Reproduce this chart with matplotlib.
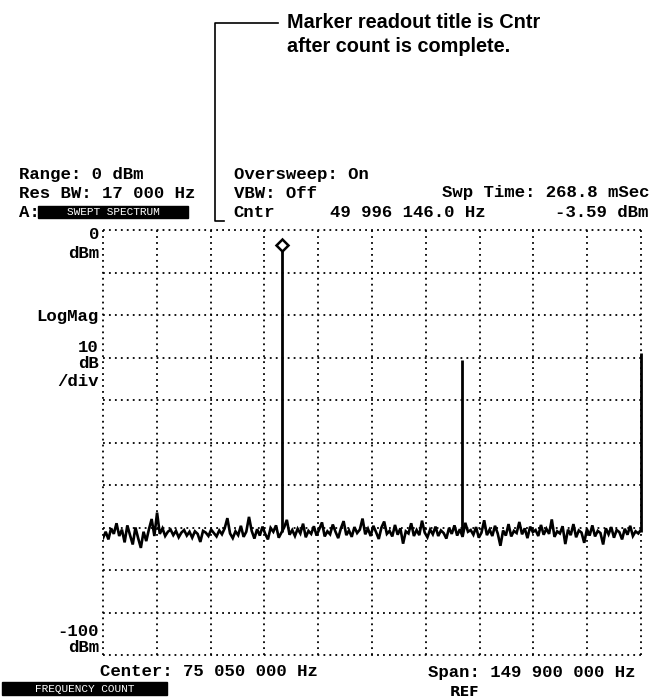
import numpy as np
import matplotlib
matplotlib.use("Agg")
import matplotlib.pyplot as plt
from matplotlib.patches import Rectangle

# sweep settings (MHz / dBm)
center_mhz = 75.05
span_mhz = 149.9
ref_level = 0
db_per_div = 10

# signals found by the sweep
peak_freqs = [49.996, 100.0, 150.0]
peak_levels = [-3.59, -30.6, -29.0]

# noise floor, left to right
noise_floor = [
    -72.5, -71.0, -72.8, -70.2, -71.5, -69.0, -72.0, -70.5, -73.5, -69.5,
    -71.8, -74.0, -70.0, -72.5, -74.8, -71.0, -73.2, -70.4, -68.0, -72.0,
    -66.5, -71.5, -70.2, -72.0, -71.0, -70.5, -71.8, -70.8, -72.3, -71.2,
    -70.6, -71.9, -71.0, -72.4, -70.9, -71.5, -73.4, -70.8, -71.2, -72.0,
    -70.5, -71.3, -72.1, -70.7, -71.6, -70.2, -67.8, -71.4, -72.5, -70.9,
    -71.8, -69.6, -72.2, -71.0, -67.5, -70.8, -72.6, -70.4, -71.9, -69.8,
    -71.5, -72.8, -70.1, -71.0, -69.5, -72.4, -71.2, -70.0, -68.2, -71.7,
    -70.6, -72.0, -70.3, -71.4, -69.1, -72.3, -70.8, -71.5, -69.7, -71.9,
    -70.4, -68.8, -72.1, -70.9, -71.6, -69.3, -71.0, -72.5, -70.2, -68.5,
    -71.8, -70.7, -72.2, -69.9, -71.3, -70.5, -67.9, -71.6, -70.3, -72.0,
    -69.6, -71.1, -72.7, -70.0, -68.6, -71.5, -70.8, -72.1, -69.4, -71.7,
    -70.2, -73.8, -70.9, -71.4, -69.0, -72.0, -70.6, -71.8, -68.4, -71.2,
    -72.3, -70.5, -71.6, -69.8, -72.0, -70.7, -71.3, -72.6, -70.1, -71.5,
    -69.5, -71.9, -70.4, -72.2, -68.9, -71.0, -70.6, -71.7, -69.9, -72.4,
    -71.2, -68.3, -71.8, -70.5, -72.0, -69.6, -71.4, -74.3, -70.7, -71.9,
    -69.2, -72.1, -70.8, -71.3, -68.7, -71.6, -70.2, -72.5, -69.8, -71.1,
    -70.6, -72.0, -69.4, -71.7, -70.3, -71.5, -68.1, -72.2, -70.9, -71.4,
    -69.7, -73.9, -70.5, -71.8, -69.2, -72.3, -70.7, -71.2, -73.6, -70.4,
    -71.9, -69.5, -72.1, -70.8, -71.3, -74.0, -70.2, -71.6, -69.9, -72.4,
    -70.6, -71.1, -72.8, -70.3, -71.7, -69.6, -72.0, -70.9, -71.4, -70.5,
]

W, H = 654, 700
MONO = ["Liberation Mono", "DejaVu Sans Mono"]


def fx(x):
    return x / W


def fy(y):
    return 1 - y / H


fig = plt.figure(figsize=(W / 100, H / 100), dpi=100)

left, right, top, bottom = 103, 641, 230, 655
ax = fig.add_axes([fx(left), fy(bottom), (right - left) / W, (bottom - top) / H])

start = center_mhz - span_mhz / 2
stop = center_mhz + span_mhz / 2
ax.set_xlim(start, stop)
ax.set_ylim(ref_level - 10 * db_per_div, ref_level)
ax.axis("off")

dots = (0, (1, 2.3))
for f in np.linspace(start, stop, 11):
    ax.axvline(f, color="black", lw=1.3, ls=dots, clip_on=False)
for lvl in range(ref_level - 10 * db_per_div, ref_level + 1, db_per_div):
    ax.axhline(lvl, color="black", lw=1.3, ls=dots, clip_on=False)

freqs = np.linspace(start, stop, len(noise_floor))
ax.plot(freqs, noise_floor, color="black", lw=1.9, solid_joinstyle="miter")
ax.vlines(peak_freqs, -71.0, peak_levels, color="black", lw=2.0, clip_on=False)
ax.plot(peak_freqs[0], peak_levels[0], marker="D", ms=6.5, mfc="white",
        mec="black", mew=1.8, clip_on=False, zorder=5)

# instrument readout
def mono(x, y, s, ha="left", size=12.5):
    fig.text(fx(x), fy(y), s, ha=ha, va="center", fontsize=size,
             family=MONO, weight="bold")


mono(19, 175, "Range: 0 dBm")
mono(19, 194, "Res BW: 17 000 Hz")
mono(19, 212, "A:")
fig.patches.append(Rectangle((fx(38), fy(218)), fx(188) - fx(38), fy(206) - fy(218),
                             transform=fig.transFigure, color="black"))
fig.text(fx(113), fy(212), "SWEPT SPECTRUM", ha="center", va="center",
         fontsize=8, family=MONO, color="white")

mono(234, 175, "Oversweep: On")
mono(234, 193, "VBW: Off")
mono(650, 193, "Swp Time: 268.8 mSec", ha="right")
mono(233, 212, "Cntr")
mono(330, 212, "49 996 146.0 Hz")
mono(648, 212, "-3.59 dBm", ha="right")

mono(99, 235, "0", ha="right")
mono(99, 253, "dBm", ha="right")
mono(99, 317, "LogMag", ha="right")
mono(99, 347, "10", ha="right")
mono(99, 364, "dB", ha="right")
mono(99, 382, "/div", ha="right")
mono(99, 631, "-100", ha="right")
mono(99, 648, "dBm", ha="right")

mono(100, 672, "Center: 75 050 000 Hz")
mono(635, 673, "Span: 149 900 000 Hz", ha="right")
fig.text(fx(465), fy(692), "REF", ha="center", va="center", fontsize=10,
         weight="bold", family="DejaVu Sans")
fig.patches.append(Rectangle((fx(2), fy(695)), fx(167) - fx(2), fy(682) - fy(695),
                             transform=fig.transFigure, color="black"))
fig.text(fx(85), fy(688.5), "FREQUENCY COUNT", ha="center", va="center",
         fontsize=8, family=MONO, color="white")

# callout
fig.add_artist(plt.Line2D([fx(278), fx(215), fx(215), fx(224)],
                          [fy(23), fy(23), fy(221), fy(221)],
                          transform=fig.transFigure, color="black", lw=1.2))
callout = ["Liberation Sans Narrow", "Liberation Sans"]
fig.text(fx(287), fy(22), "Marker readout title is Cntr", ha="left", va="center",
         fontsize=14.3, weight="bold", family=callout)
fig.text(fx(287), fy(47), "after count is complete.", ha="left", va="center",
         fontsize=14.3, weight="bold", family=callout)

fig.savefig("out.png", dpi=100)
